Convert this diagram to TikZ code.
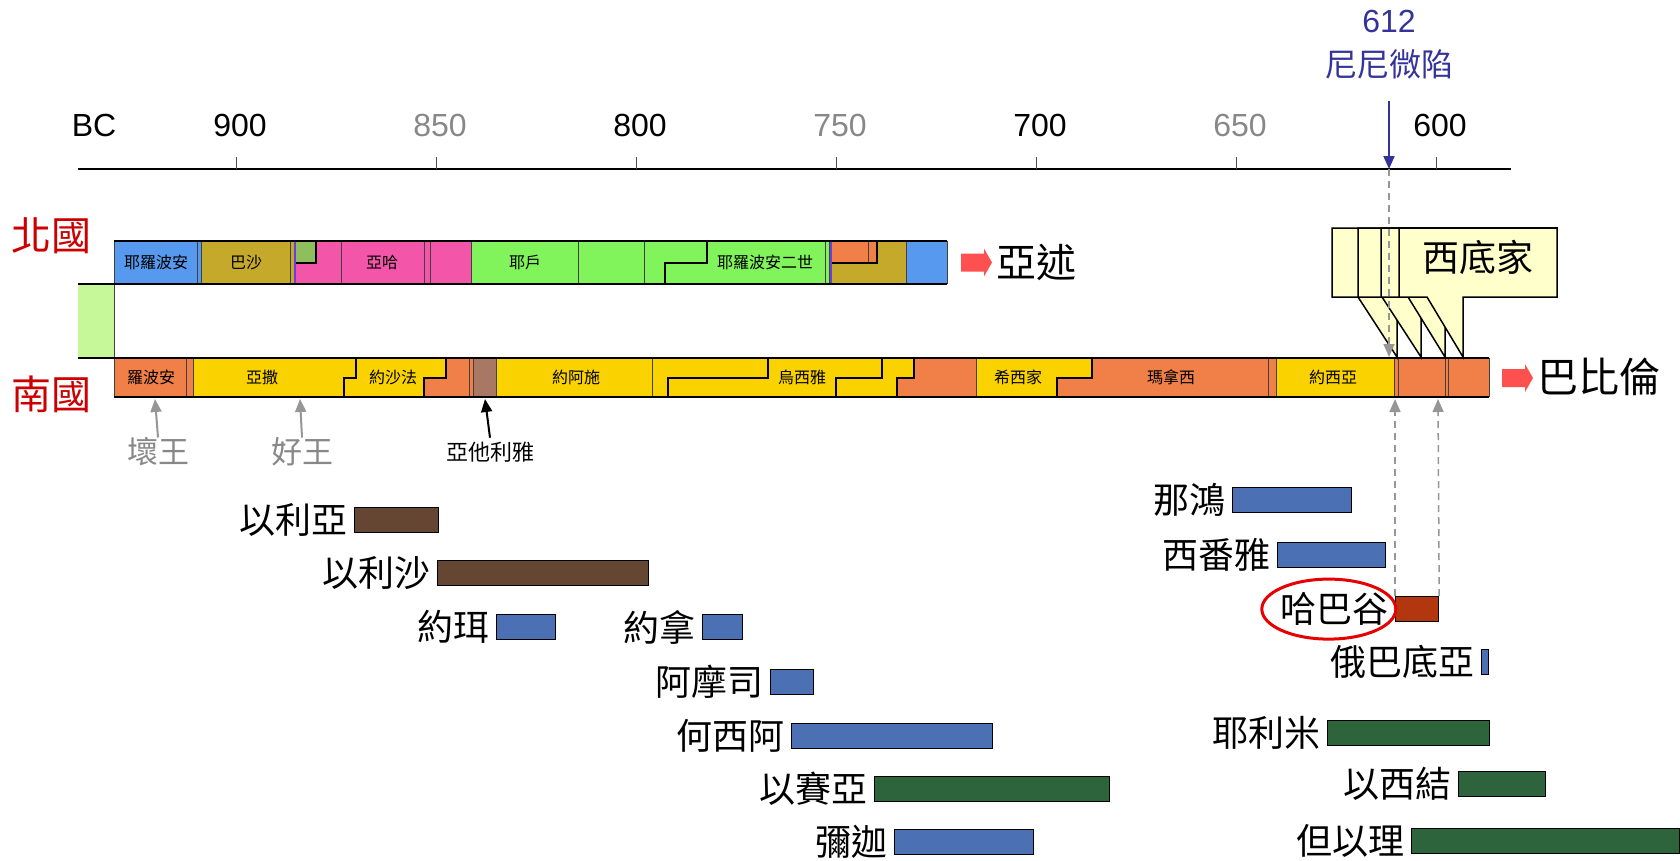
\documentclass[tikz,border=0pt]{standalone}
\usepackage{fontspec}
\setmainfont{Liberation Sans}
\newfontfamily\cjk{Noto Sans CJK TC}
\usetikzlibrary{calc,positioning,arrows.meta}

\definecolor{kingblue}{RGB}{86,153,238}
\definecolor{kingolive}{RGB}{197,169,42}
\definecolor{kingtibni}{RGB}{143,191,92}
\definecolor{kingpink}{RGB}{243,86,168}
\definecolor{kinggreen}{RGB}{128,244,90}
\definecolor{kingorange}{RGB}{240,128,72}
\definecolor{kingyellow}{RGB}{249,210,0}
\definecolor{kingbrown}{RGB}{168,120,101}
\definecolor{kingpurple}{RGB}{110,60,230}
\definecolor{stripgreen}{RGB}{198,248,154}
\definecolor{prophetblue}{RGB}{76,112,180}
\definecolor{prophetbrown}{RGB}{100,70,50}
\definecolor{prophetgreen}{RGB}{45,100,60}
\definecolor{prophetred}{RGB}{178,55,15}
\definecolor{arrowred}{RGB}{255,80,80}
\definecolor{realmred}{RGB}{204,0,0}
\definecolor{ringred}{RGB}{230,0,0}
\definecolor{fallblue}{RGB}{51,51,153}
\definecolor{yeargray}{RGB}{136,136,136}
\definecolor{guidegray}{RGB}{150,150,150}
\definecolor{calloutyellow}{RGB}{255,255,204}

\begin{document}
\begin{tikzpicture}[x=1pt,y=-1pt,
    barline/.style={line width=2.5pt},
    kingsep/.style={line width=1pt,draw=black!75},
    kingstep/.style={line width=2pt,line join=miter},
    kinglbl/.style={font=\cjk\fontsize{16}{18}\selectfont,inner sep=0pt},
    yearlbl/.style={font=\fontsize{32}{36}\selectfont,inner sep=0pt},
    realmlbl/.style={font=\cjk\fontsize{40}{44}\selectfont,text=realmred,inner sep=0pt},
    exilelbl/.style={font=\cjk\fontsize{40}{44}\selectfont,inner sep=0pt,anchor=west},
    pbar/.style={draw=black,line width=1.2pt,minimum height=25pt,inner sep=0pt,anchor=north west},
    plbl/.style={font=\cjk\fontsize{36}{40}\selectfont,inner sep=0pt},
    markarrow/.style={line width=2pt,-{Triangle[length=13pt,width=11pt]}},
    guide/.style={draw=guidegray,line width=1.5pt,dash pattern=on 7pt off 5pt,-{Triangle[length=13pt,width=11pt]},guidegray},
    callout/.style={fill=calloutyellow,draw=black,line width=1.5pt,line join=miter},
  ]
  \useasboundingbox (0,0) rectangle (1680,860);
  \def\northtop{241}
  \def\northmid{262.5}
  \def\northbot{284}
  \def\southtop{358}
  \def\southmid{377.5}
  \def\southbot{397}

  \coordinate (AxisStart) at (78,169);
  \coordinate (AxisEnd) at (1511,169);
  \draw[line width=2.5pt] (AxisStart) -- (AxisEnd);
  \node[yearlbl] (bc) at (94,125) {BC};
  \foreach \yr/\col [count=\i from 0] in {900/black,850/yeargray,800/black,750/yeargray,700/black,650/yeargray,600/black}{
    \draw[line width=1pt,black!70] ({236+200*\i},157) -- ({236+200*\i},169);
    \node[yearlbl,text=\col] (year\yr) at ({240+200*\i},125) {\yr};
  }

  \node[yearlbl,text=fallblue] (fall) at (1389,21) {612};
  \node[yearlbl,font=\cjk\fontsize{32}{36}\selectfont,text=fallblue] (nineveh) at (1389,64) {尼尼微陷};
  \coordinate (FallAxis) at (1389,169);
  \coordinate (FallBar) at (1389,357);
  \draw[markarrow,fallblue] ([yshift=-22pt]nineveh.south) -- (FallAxis);

  \node[realmlbl] (north) at (52,236) {北國};
  \node[realmlbl] (south) at (52,394) {南國};

  \fill[stripgreen] (78,\northbot) rectangle (114,\southtop);

  \foreach \xa/\xb/\col in {114/201/kingblue,201/296/kingolive,296/471/kingpink,471/831/kinggreen,831/906/kingolive,906/947/kingblue}
    \fill[\col] (\xa,\northtop) rectangle (\xb,\northbot);
  \fill[kingtibni] (296,\northtop) rectangle (316,\northmid);
  \fill[kingorange] (831,\northtop) rectangle (877,\northmid);
  \foreach \x in {197,201,290,294,341,424,430,471,578,644,825,829,906,947}
    \draw[kingsep] (\x,\northtop) -- (\x,\northbot);
  \draw[kingsep] (868,\northtop) -- (868,\northmid);
  \draw[kingpurple,line width=1.5pt] (295,\northtop) -- (295,\northbot);
  \draw[kingpurple,line width=1.5pt] (831,\northtop) -- (831,\northbot);
  \draw[kingstep] (296,\northmid) -- (316,\northmid) -- (316,\northtop);
  \draw[kingstep] (665,\northbot) -- (665,\northmid) -- (707,\northmid) -- (707,\northtop);
  \draw[kingstep] (832,\northmid) -- (877,\northmid) -- (877,\northtop);

  \foreach \xa/\xb/\col in {114/193/kingorange,193/446/kingyellow,446/473/kingorange,473/496/kingbrown,496/914/kingyellow,914/976/kingorange,976/1092/kingyellow,1092/1276/kingorange,1276/1394/kingyellow,1394/1489/kingorange}
    \fill[\col] (\xa,\southtop) rectangle (\xb,\southbot);
  \foreach \xa/\xb in {424/446,897/914,1057/1092}
    \fill[kingorange] (\xa,\southmid) rectangle (\xb,\southbot);
  \foreach \x in {186,193,469,473,496,652,976,1268,1276,1394,1398,1445,1448,1489}
    \draw[kingsep] (\x,\southtop) -- (\x,\southbot);
  \foreach \xa/\xb in {344/356,424/446,668/768,836/882,897/914,1057/1092}
    \draw[kingstep] (\xa,\southbot) -- (\xa,\southmid) -- (\xb,\southmid) -- (\xb,\southtop);

  \draw[kingsep] (114,\northtop) -- (114,\southbot);
  \draw[barline] (114,\northtop) -- (947,\northtop);
  \draw[barline] (78,\northbot) -- (947,\northbot);
  \draw[barline] (78,\southtop) -- (1489,\southtop);
  \draw[barline] (114,\southbot) -- (1489,\southbot);

  \foreach \x/\name/\txt in {156/jeroboam/耶羅波安,246/baasha/巴沙,382/ahab/亞哈,525/jehu/耶戶,765/jeroboamii/耶羅波安二世}
    \node[kinglbl] (\name) at (\x,\northmid) {\txt};
  \foreach \x/\name/\txt in {151/rehoboam/羅波安,262/asa/亞撒,393/jehoshaphat/約沙法,576/joash/約阿施,802/uzziah/烏西雅,1018/hezekiah/希西家,1171/manasseh/瑪拿西,1333/josiah/約西亞}
    \node[kinglbl] (\name) at (\x,\southmid) {\txt};

  \fill[arrowred] (961,262.5) ++(0,-9) -- ++(23,0) -- ++(0,-5) -- ++(8,14) -- ++(-8,14) -- ++(0,-5) -- ++(-23,0) -- cycle;
  \node[exilelbl] (assyria) at (996,262) {亞述};
  \fill[arrowred] (1502,378) ++(0,-9) -- ++(23,0) -- ++(0,-5) -- ++(8,14) -- ++(-8,14) -- ++(0,-5) -- ++(-23,0) -- cycle;
  \node[exilelbl,font=\cjk\fontsize{41}{45}\selectfont] (babylon) at (1537,377) {巴比倫};

  \foreach \l/\a/\t in {1332/1358/1397,1358/1382/1421,1381/1408/1445,1399/1427/1463}
    \draw[callout] (\l,228) -- (1557,228) -- (1557,297) -- (\t,297) -- (\t,357) -- (\a,297) -- (\l,297) -- cycle;
  \node[plbl,font=\cjk\fontsize{37}{40}\selectfont] (zedekiah) at (1478,257) {西底家};

  \draw[guide] (FallAxis) -- (FallBar);

  \node[plbl,font=\cjk\fontsize{31}{34}\selectfont,text=yeargray] (bad) at (158,452) {壞王};
  \node[plbl,font=\cjk\fontsize{31}{34}\selectfont,text=yeargray] (good) at (302,452) {好王};
  \node[plbl,font=\cjk\fontsize{22}{26}\selectfont] (athaliah) at (490,452) {亞他利雅};
  \coordinate (BadTip) at (155,399);
  \coordinate (GoodTip) at (300,399);
  \coordinate (AthaliahTip) at (485,399);
  \draw[markarrow,guidegray] (bad.north) -- (BadTip);
  \draw[markarrow,guidegray] (good.north) -- (GoodTip);
  \draw[markarrow] ([yshift=4pt]athaliah.north) -- (AthaliahTip);

  \foreach \px/\py/\pw/\pc/\pn/\pt in {
    354/507/84/prophetbrown/elijah/以利亞,
    437/560/211/prophetbrown/elisha/以利沙,
    496/614/59/prophetblue/joel/約珥,
    702/614/40/prophetblue/jonah/約拿,
    770/669/43/prophetblue/amos/阿摩司,
    791/723/201/prophetblue/hosea/何西阿,
    874/776/235/prophetgreen/isaiah/以賽亞,
    894/829/139/prophetblue/micah/彌迦,
    1232/487/119/prophetblue/nahum/那鴻,
    1277/542/108/prophetblue/zephaniah/西番雅,
    1395/596/43/prophetred/hab/哈巴谷,
    1481/649/7/prophetblue/obadiah/俄巴底亞,
    1327/720/162/prophetgreen/jeremiah/耶利米,
    1458/771/87/prophetgreen/ezekiel/以西結,
    1411/828/268/prophetgreen/daniel/但以理}{
    \node[pbar,fill=\pc,minimum width=\pw] (\pn) at (\px,\py) {};
    \node[plbl,left=6pt of \pn] (\pn-lbl) {\pt};
  }
  \draw[ringred,line width=3pt] ([xshift=-6pt]hab-lbl.center) ellipse [x radius=67,y radius=30];
  \coordinate (HabLeftTip) at (1395,399);
  \coordinate (HabRightTip) at (1438,399);
  \draw[guide] (hab.north west) -- (HabLeftTip);
  \draw[guide] (hab.north east) -- (HabRightTip);
\end{tikzpicture}
\end{document}
